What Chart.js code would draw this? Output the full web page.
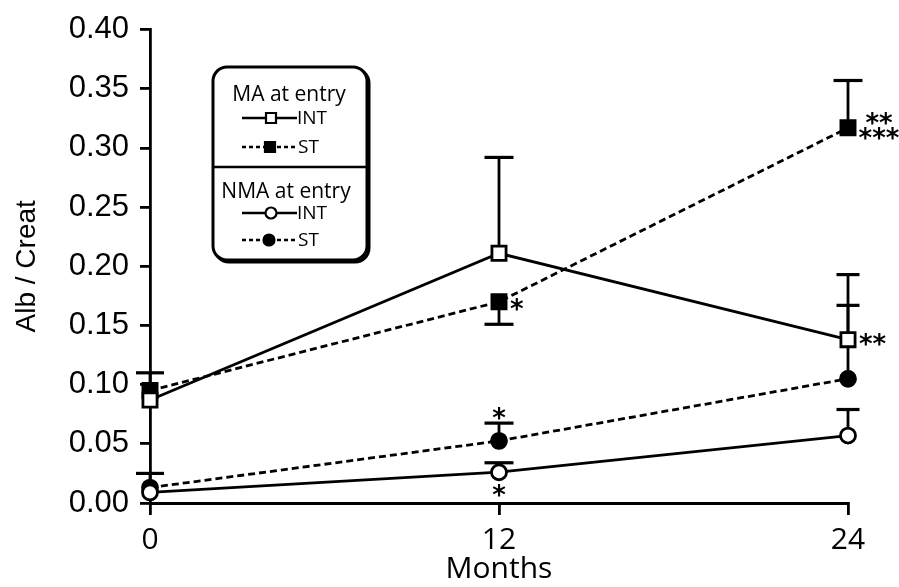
<!DOCTYPE html>
<html><head><meta charset="utf-8">
<script src="https://cdn.jsdelivr.net/npm/chart.js@4/dist/chart.umd.min.js"></script>
<style>html,body{margin:0;padding:0;background:#fff}canvas{display:block}</style>
</head><body>
<canvas id="c" width="899" height="587"></canvas>
<script>
// ---- data ----
const months = [0, 12, 24];
const xTickLabels = ['0', '12', '24'];
const yTickValues = [0, 0.05, 0.10, 0.15, 0.20, 0.25, 0.30, 0.35, 0.40];
const yTickLabels = ['0.00', '0.05', '0.10', '0.15', '0.20', '0.25', '0.30', '0.35', '0.40'];

// means
const maInt  = [0.087, 0.211, 0.138];
const maSt   = [0.095, 0.170, 0.317];
const nmaInt = [0.009, 0.026, 0.057];
const nmaSt  = [0.013, 0.0525, 0.105];

// value where each error bar ends (null = no bar)
const maIntErr  = [null, 0.292, 0.193];
const maStErr   = [0.110, 0.151, 0.357];
const nmaIntErr = [null, 0.034, 0.079];
const nmaStErr  = [0.025, 0.0675, 0.167];

// significance marks
const maIntSig  = ['', '', '**'];
const maStSig   = ['', '*', '**\n***'];
const nmaIntSig = ['', '*', ''];
const nmaStSig  = ['', '*', ''];

// ---- styles ----
const series = [
  {key:'maInt',  label:'MA INT',  data:maInt,  err:maIntErr,  sig:maIntSig,  style:'rect',   filled:false, dashed:false, caps:[28,29,23], sigPlace:'right'},
  {key:'maSt',   label:'MA ST',   data:maSt,   err:maStErr,   sig:maStSig,   style:'rect',   filled:true,  dashed:true,  caps:[28,29,29], sigPlace:'right'},
  {key:'nmaInt', label:'NMA INT', data:nmaInt, err:nmaIntErr, sig:nmaIntSig, style:'circle', filled:false, dashed:false, caps:[28,29,23], sigPlace:'below'},
  {key:'nmaSt',  label:'NMA ST',  data:nmaSt,  err:nmaStErr,  sig:nmaStSig,  style:'circle', filled:true,  dashed:true,  caps:[28,29,23], sigPlace:'aboveErr'}
];

const datasets = series.map(s => ({
  label: s.label,
  data: months.map((m, i) => ({x: m, y: s.data[i]})),
  borderColor: '#000',
  borderWidth: 2.8,
  borderDash: s.dashed ? [7, 4] : [],
  pointStyle: s.style,
  pointRadius: s.style === 'rect' ? 10 : 7.5,
  pointBorderWidth: 2.8,
  pointBorderColor: '#000',
  pointBackgroundColor: s.filled ? '#000' : '#fff',
  backgroundColor: s.filled ? '#000' : '#fff',
  tension: 0,
  fill: false,
  clip: false
}));

const errorBars = {
  id: 'errorBars',
  beforeDatasetsDraw(chart) {
    const {ctx, scales: {x, y}} = chart;
    ctx.save();
    ctx.strokeStyle = '#000';
    series.forEach(s => {
      s.err.forEach((e, i) => {
        if (e === null) return;
        const px = x.getPixelForValue(months[i]);
        const py = y.getPixelForValue(s.data[i]);
        const pe = y.getPixelForValue(e);
        ctx.lineWidth = 2.8;
        ctx.beginPath(); ctx.moveTo(px, py); ctx.lineTo(px, pe); ctx.stroke();
        ctx.lineWidth = 3.2;
        const w = s.caps[i] / 2;
        ctx.beginPath(); ctx.moveTo(px - w, pe); ctx.lineTo(px + w, pe); ctx.stroke();
      });
    });
    ctx.restore();
  },
  afterDatasetsDraw(chart) {
    const {ctx, scales: {x, y}} = chart;
    ctx.save();
    ctx.fillStyle = '#000';
    ctx.font = 'bold 26px "DejaVu Sans"';
    ctx.textAlign = 'center';
    ctx.textBaseline = 'alphabetic';
    const star = (txt, cx, cy) => {
      const m = ctx.measureText(txt);
      const off = (m.actualBoundingBoxAscent - m.actualBoundingBoxDescent) / 2;
      ctx.fillText(txt, cx, cy + off);
    };
    series.forEach(s => {
      s.sig.forEach((t, i) => {
        if (!t) return;
        const px = x.getPixelForValue(months[i]);
        const py = y.getPixelForValue(s.data[i]);
        const lines = t.split('\n');
        if (s.sigPlace === 'right') {
          if (lines.length === 1) {
            const w = ctx.measureText(lines[0]).width;
            star(lines[0], px + 11 + w / 2, py + (lines[0].length === 1 ? 3 : 0));
          } else {
            star(lines[0], px + 31, py - 9);
            star(lines[1], px + 31, py + 6);
          }
        } else if (s.sigPlace === 'below') {
          star(t, px, py + 18);
        } else if (s.sigPlace === 'aboveErr') {
          const pe = y.getPixelForValue(s.err[i]);
          star(t, px, pe - 10);
        }
      });
    });
    ctx.restore();
  }
};

const legendBox = {
  id: 'legendBox',
  afterDraw(chart) {
    const ctx = chart.ctx;
    const L = 213, T = 67, R = 367, B = 260, r = 14;
    const rr = (x0, y0, x1, y1) => {
      ctx.beginPath();
      ctx.moveTo(x0 + r, y0);
      ctx.arcTo(x1, y0, x1, y1, r);
      ctx.arcTo(x1, y1, x0, y1, r);
      ctx.arcTo(x0, y1, x0, y0, r);
      ctx.arcTo(x0, y0, x1, y0, r);
      ctx.closePath();
    };
    ctx.save();
    ctx.strokeStyle = '#000';
    ctx.lineWidth = 3;
    rr(L + 2, T + 2, R + 2, B + 2); ctx.stroke();
    ctx.fillStyle = '#fff';
    rr(L, T, R, B); ctx.fill(); ctx.stroke();
    ctx.lineWidth = 2.5;
    ctx.beginPath(); ctx.moveTo(L, 167); ctx.lineTo(R, 167); ctx.stroke();

    ctx.fillStyle = '#000';
    ctx.textBaseline = 'middle';
    ctx.textAlign = 'center';
    ctx.font = '21px "Open Sans"';
    ctx.fillText('MA at entry', 289, 95);
    ctx.fillText('NMA at entry', 286, 192);

    const sample = (y, dashed, shape, filled, cx) => {
      ctx.lineWidth = 2.4;
      ctx.setLineDash(dashed ? [4, 3] : []);
      ctx.beginPath(); ctx.moveTo(242, y); ctx.lineTo(297, y); ctx.stroke();
      ctx.setLineDash([]);
      ctx.lineWidth = 2.2;
      ctx.fillStyle = filled ? '#000' : '#fff';
      ctx.beginPath();
      if (shape === 'rect') ctx.rect(cx - 5, y - 5, 10, 10);
      else ctx.arc(cx, y, 5.5, 0, Math.PI * 2);
      ctx.fill(); ctx.stroke();
      ctx.fillStyle = '#000';
    };
    sample(118, false, 'rect', false, 271);
    sample(147, true, 'rect', true, 270);
    sample(213, false, 'circle', false, 271);
    sample(240, true, 'circle', true, 269);
    ctx.textAlign = 'left';
    ctx.font = '19px "Open Sans"';
    ctx.fillText('INT', 297, 119);
    ctx.fillText('ST', 298, 148);
    ctx.fillText('INT', 297, 214);
    ctx.fillText('ST', 298, 241);
    ctx.restore();
  }
};

const whiteBg = {
  id: 'whiteBg',
  beforeDraw(chart) {
    const c = chart.ctx;
    c.save(); c.fillStyle = '#fff'; c.fillRect(0, 0, chart.width, chart.height); c.restore();
  }
};

new Chart(document.getElementById('c'), {
  type: 'line',
  data: {datasets},
  plugins: [whiteBg, errorBars, legendBox],
  options: {
    responsive: false,
    animation: false,
    devicePixelRatio: 1,
    layout: {padding: {top: 23, right: 51, bottom: 0, left: 0}},
    plugins: {legend: {display: false}, tooltip: {enabled: false}},
    scales: {
      x: {
        type: 'linear', min: 0, max: 24,
        afterFit: s => { s.height = 84; },
        afterBuildTicks: s => { s.ticks = months.map(v => ({value: v})); },
        ticks: {
          callback: (v, i) => xTickLabels[i],
          color: '#000', padding: 7,
          font: {family: 'Open Sans', size: 30}
        },
        grid: {drawOnChartArea: false, drawTicks: true, tickLength: 12, color: '#000', lineWidth: 2.8},
        border: {display: true, color: '#000', width: 3},
        title: {display: true, text: 'Months', color: '#000', font: {family: 'Open Sans', size: 30}, padding: {top: 0, bottom: 0}}
      },
      y: {
        type: 'linear', min: 0, max: 0.4,
        afterFit: s => { s.width = 150; },
        afterBuildTicks: s => { s.ticks = yTickValues.map(v => ({value: v})); },
        ticks: {
          callback: (v, i) => yTickLabels[i],
          color: '#000', padding: 11,
          font: {family: 'Liberation Sans', size: 31}
        },
        grid: {drawOnChartArea: false, drawTicks: true, tickLength: 10, color: '#000', lineWidth: 2.8},
        border: {display: true, color: '#000', width: 2.8},
        title: {display: true, text: 'Alb / Creat', color: '#000', font: {family: 'Liberation Sans', size: 28}, padding: {top: 10, bottom: 0}}
      }
    }
  }
});
</script>
</body></html>
